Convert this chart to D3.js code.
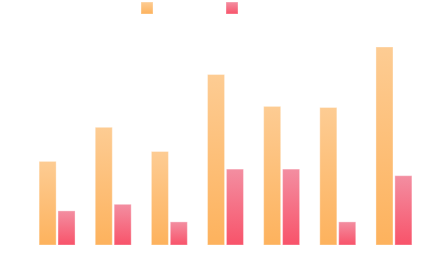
<!DOCTYPE html>
<html>
<head>
<meta charset="utf-8">
<script src="https://cdn.jsdelivr.net/npm/d3@7"></script>
<style>
  body { margin: 0; background: #fff; }
</style>
</head>
<body>
<svg id="chart" width="431" height="270"></svg>
<script>
// data
var groups = ["G1", "G2", "G3", "G4", "G5", "G6", "G7"];
var seriesNames = ["A", "B"];
var seriesA = [380, 535, 425, 775, 630, 625, 900];
var seriesB = [155, 185, 105, 345, 345, 105, 315];

var svg = d3.select("#chart");
var defs = svg.append("defs");

var grads = [
  {id: "gradA", top: "#fdcc93", bottom: "#fdb25d"},
  {id: "gradB", top: "#f38ea1", bottom: "#f8536a"}
];
grads.forEach(function(g) {
  var lg = defs.append("linearGradient")
    .attr("id", g.id)
    .attr("x1", 0).attr("y1", 0).attr("x2", 0).attr("y2", 1);
  lg.append("stop").attr("offset", "0%").attr("stop-color", g.top);
  lg.append("stop").attr("offset", "100%").attr("stop-color", g.bottom);
});

var x = d3.scaleBand()
  .domain(groups)
  .range([29, 422])
  .paddingInner(0.36)
  .paddingOuter(0.18);

var xInner = d3.scaleBand()
  .domain(seriesNames)
  .range([0, x.bandwidth()])
  .paddingInner(0.1);

var y = d3.scaleLinear()
  .domain([0, 1000])
  .range([245, 25]);

var rows = groups.map(function(g, i) {
  return {group: g, values: [{key: "A", v: seriesA[i]}, {key: "B", v: seriesB[i]}]};
});

var g = svg.append("g").selectAll("g")
  .data(rows)
  .join("g")
  .attr("transform", function(d) { return "translate(" + x(d.group) + ",0)"; });

g.selectAll("rect")
  .data(function(d) { return d.values; })
  .join("rect")
  .attr("x", function(d) { return xInner(d.key); })
  .attr("y", function(d) { return y(d.v); })
  .attr("width", xInner.bandwidth())
  .attr("height", function(d) { return y(0) - y(d.v); })
  .attr("fill", function(d) { return d.key == "A" ? "url(#gradA)" : "url(#gradB)"; })
  .attr("stroke", "rgba(255,255,255,0.35)")
  .attr("stroke-width", 1);

// legend squares
var legendX = [141, 226];
svg.append("g").selectAll("rect")
  .data(seriesNames)
  .join("rect")
  .attr("x", function(d, i) { return legendX[i]; })
  .attr("y", 2)
  .attr("width", 12)
  .attr("height", 12)
  .attr("fill", function(d) { return d == "A" ? "url(#gradA)" : "url(#gradB)"; })
  .attr("stroke", "rgba(255,255,255,0.35)");
</script>
</body>
</html>
